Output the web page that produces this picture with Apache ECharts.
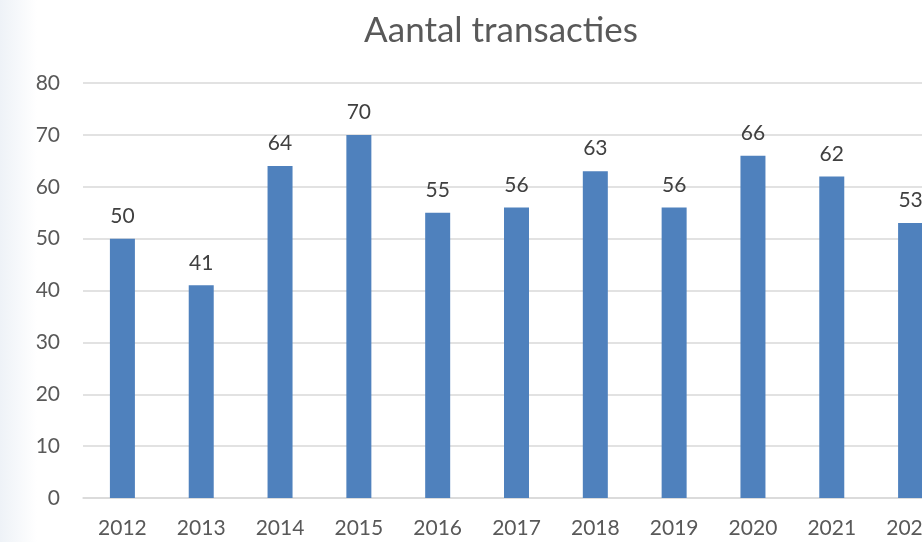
<!DOCTYPE html>
<html lang="nl" style="height: 100%">
    <head>
        <meta charset="utf-8">
        <title>Aantal transacties</title>
    </head>
    <body style="height: 100%; margin: 0">
        <div id="container" style="width: 922px; height: 542px"></div>
        <script src="https://cdn.jsdelivr.net/npm/echarts@6/dist/echarts.min.js"></script>
        <script>
            let years = ["2012", "2013", "2014", "2015", "2016", "2017", "2018", "2019", "2020", "2021", "2022"];
            let transactions = [50, 41, 64, 70, 55, 56, 63, 56, 66, 62, 53];

            function drawChart() {
                let dom = document.getElementById("container");
                let chart = echarts.init(dom, null, { renderer: "canvas" });
                let font = "Lato";
                let option = {
                    animation: false,
                    backgroundColor: {
                        type: "linear", x: 0, y: 0, x2: 1, y2: 0,
                        colorStops: [
                            { offset: 0, color: "#eef2f7" },
                            { offset: 0.04, color: "#ffffff" },
                            { offset: 1, color: "#ffffff" }
                        ]
                    },
                    title: {
                        text: "Aantal transacties",
                        left: 496,
                        textAlign: "center",
                        top: 8,
                        textStyle: {
                            fontFamily: font,
                            fontSize: 35,
                            fontWeight: "normal",
                            color: "#595959"
                        }
                    },
                    // the right end of the picture is cut off, so the grid runs past the canvas
                    grid: {
                        left: 83,
                        right: -28,
                        top: 83,
                        bottom: 44,
                        outerBoundsMode: "none"
                    },
                    xAxis: {
                        type: "category",
                        data: years,
                        axisTick: { show: false },
                        axisLine: { lineStyle: { color: "#d9d9d9", width: 1.5 } },
                        axisLabel: {
                            margin: 20,
                            fontFamily: font,
                            fontSize: 21,
                            color: "#595959"
                        }
                    },
                    yAxis: {
                        type: "value",
                        min: 0,
                        max: 80,
                        interval: 10,
                        axisLine: { show: false },
                        axisTick: { show: false },
                        splitLine: { lineStyle: { color: "#d9d9d9", width: 1.5 } },
                        axisLabel: {
                            margin: 23,
                            fontFamily: font,
                            fontSize: 21,
                            color: "#595959"
                        }
                    },
                    series: [
                        {
                            type: "bar",
                            data: transactions,
                            barWidth: 25,
                            itemStyle: { color: "#4f81bd" },
                            label: {
                                show: true,
                                position: "top",
                                distance: 12,
                                fontFamily: font,
                                fontSize: 21,
                                color: "#404040"
                            }
                        }
                    ]
                };

                chart.setOption(option);
            }

            drawChart();
        </script>
    </body>
</html>
